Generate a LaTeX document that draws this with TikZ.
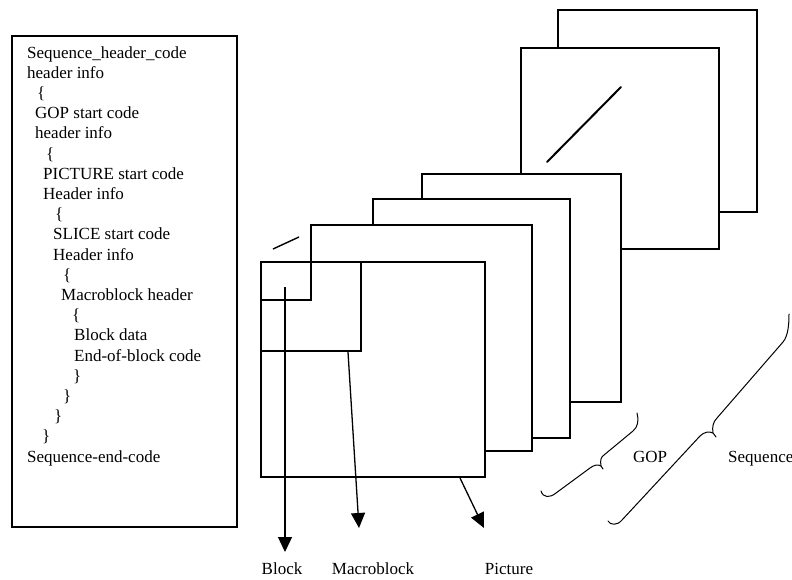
\documentclass[tikz,border=0pt]{standalone}
\usepackage{fontspec}
\setmainfont{Liberation Serif}
\usetikzlibrary{arrows.meta}
\begin{document}
\begin{tikzpicture}[x=1pt,y=-1pt,
  frame/.style={line width=1.3pt, line join=miter},
  code/.style={anchor=base west, inner sep=0pt, font=\fontsize{17}{20}\selectfont},
  lbl/.style={anchor=base, inner sep=0pt, font=\fontsize{17}{20}\selectfont},
  pointer/.style={line width=1.3pt, -{Triangle[length=15pt,width=14pt]}},
  bracepath/.style={line width=1pt, line cap=round, line join=round}]
\useasboundingbox (0,0) rectangle (792,579);

% bitstream syntax listing
\draw[frame] (12,36) rectangle (237,527);
\foreach \i/\x/\t in {
  0/27/{Sequence\_header\_code},
  1/27/{header info},
  2/37/{\{},
  3/35/{GOP start code},
  4/35/{header info},
  5/46/{\{},
  6/43/{PICTURE start code},
  7/43/{Header info},
  8/55/{\{},
  9/53/{SLICE start code},
  10/53/{Header info},
  11/63/{\{},
  12/61/{Macroblock header},
  13/72/{\{},
  14/74/{Block data},
  15/74/{End-of-block code},
  16/73/{\}},
  17/63/{\}},
  18/54/{\}},
  19/42/{\}},
  20/27/{Sequence-end-code}}
  \node[code] (line\i) at (\x, 58+20.2*\i) {\t};

% stacked frames, back to front
\draw[frame] (719,212) -| (757,10) -| (558,48);
\draw[frame] (621,249) -| (719,48) -| (521,174);
\draw[frame] (570,402) -| (621,174) -| (422,199);
\draw[frame] (532,438) -| (570,199) -| (373,225);
\draw[frame] (485,451) -| (532,225) -| (311,300) -- (261,300);
\draw[frame] (261,262) rectangle (485,477);
\draw[frame] (361,262) |- (261,351);

% slice strokes
\draw[line width=2pt, line cap=round] (547,162) -- (621,87);
\draw[line width=1.4pt] (273,249) -- (299,237);

% pointers to the labels
\coordinate (blockfrom) at (285,287);
\coordinate (blockto) at (285,552);
\coordinate (mbfrom) at (348,352);
\coordinate (mbto) at (359,528);
\coordinate (picfrom) at (460,478);
\coordinate (picto) at (484,528);
\draw[pointer] (blockfrom) -- (blockto);
\draw[pointer] (mbfrom) -- (mbto);
\draw[pointer] (picfrom) -- (picto);

\node[lbl] (block) at (282,574) {Block};
\node[lbl] (macroblock) at (373,574) {Macroblock};
\node[lbl] (picture) at (509,574) {Picture};

% GOP brace
\draw[bracepath] (541,491) .. controls (543,498) and (550,498) .. (556,493)
  -- (590,468) .. controls (594,465) and (598,464) .. (601,466) -- (603,469);
\draw[bracepath] (601,466) .. controls (600,460) and (601,457) .. (604,455)
  -- (633,431) .. controls (638,427) and (639,420) .. (637,413);
\node[lbl] (gop) at (650,462) {GOP};

% sequence brace
\draw[bracepath] (608,521) .. controls (610,525) and (617,526) .. (622,520)
  -- (700,436) .. controls (704,432) and (709,431) .. (713,433) -- (716,437);
\draw[bracepath] (713,433) .. controls (712,427) and (713,422) .. (717,418)
  -- (783,342) .. controls (788,336) and (789,325) .. (789,314);
\node[lbl, anchor=base west] (sequence) at (728,462) {Sequence};
\end{tikzpicture}
\end{document}
